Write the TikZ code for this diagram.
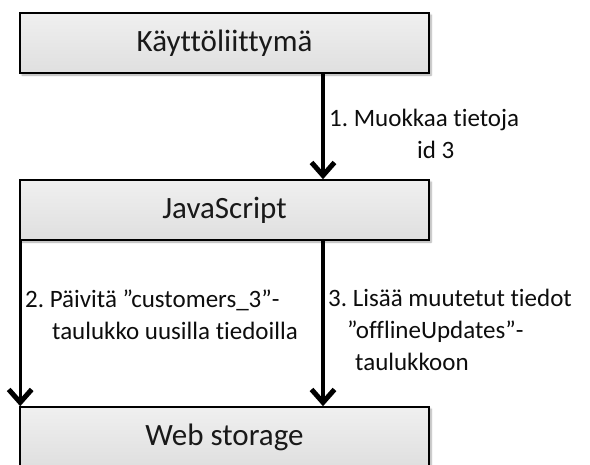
\documentclass[tikz,border=0pt]{standalone}
\usepackage{fontspec}
\setmainfont{Carlito}[Ligatures=NoCommon]
\usetikzlibrary{arrows.meta,shadows.blur}

\tikzset{
  layer/.style={
    draw=black, line width=1.6pt, rectangle,
    minimum width=409pt, minimum height=60pt, inner sep=0pt,
    top color=gray!12, bottom color=gray!25,
    blur shadow={shadow xshift=2pt, shadow yshift=-2pt, shadow blur steps=6, shadow opacity=35},
    font=\fontsize{31}{36}\selectfont, text=black!90
  },
  flow/.style={line width=3.2pt, -{Straight Barb[length=13pt, width=23pt, line width=5pt]}},
  steplabel/.style={font=\fontsize{25}{32}\selectfont\frenchspacing, text=black!95,
    inner sep=0pt, anchor=west}
}

\begin{document}
\begin{tikzpicture}[x=1pt, y=-1pt]
  \useasboundingbox (0,0) rectangle (590,464);
  \clip (0,0) rectangle (590,464);

  % the three layers
  \node[layer, line width=2.6pt] (ui) at (224.5,43) {Käyttöliittymä};
  \node[layer] (js) at (224.5,210) {JavaScript};
  \node[layer] (ws) at (224.5,437) {Web storage};

  % x position of the right-hand connectors
  \coordinate (rx) at (323,0);

  % connectors
  \draw[flow] (ui.south -| rx) -- (js.north -| rx);
  \draw[flow] (js.south west) ++(1pt,0) coordinate (ls) -- (ls |- ws.north);
  \draw[flow] (js.south -| rx) -- (ws.north -| rx);

  % step labels
  \node[steplabel, align=left] (l1) at (329,134)
    {1. Muokkaa tietoja\\\hspace*{88pt}id 3};
  \node[steplabel, align=left] (l2) at (25,315)
    {2. Päivitä ”customers\_3”-\\\hspace*{27pt}taulukko uusilla tiedoilla};
  \node[steplabel, align=left] (l3) at (328,330)
    {3. Lisää muutetut tiedot\\\hspace*{19pt}”offlineUpdates”-\\\hspace*{27pt}taulukkoon};
\end{tikzpicture}
\end{document}
